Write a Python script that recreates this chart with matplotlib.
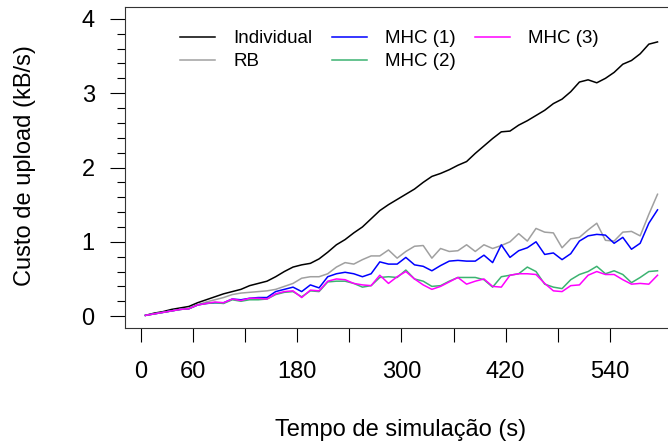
import matplotlib
matplotlib.use("Agg")
import matplotlib.pyplot as plt
import numpy as np

# tempo de simulação (s), amostras a cada 10 s
tempo = list(range(5, 600, 10))

individual = [0.01, 0.04, 0.06, 0.09, 0.11, 0.13, 0.18, 0.22, 0.26, 0.30,
              0.33, 0.36, 0.41, 0.44, 0.47, 0.53, 0.60, 0.66, 0.69, 0.71,
              0.77, 0.86, 0.96, 1.03, 1.12, 1.20, 1.31, 1.42, 1.50, 1.57,
              1.64, 1.71, 1.80, 1.88, 1.92, 1.97, 2.03, 2.08, 2.19, 2.29,
              2.39, 2.48, 2.49, 2.57, 2.63, 2.70, 2.77, 2.86, 2.92, 3.02,
              3.15, 3.18, 3.14, 3.20, 3.28, 3.39, 3.44, 3.53, 3.66, 3.69]

rb = [0.01, 0.03, 0.05, 0.07, 0.09, 0.10, 0.15, 0.19, 0.22, 0.25,
      0.29, 0.31, 0.32, 0.33, 0.34, 0.36, 0.40, 0.44, 0.51, 0.53,
      0.53, 0.57, 0.66, 0.72, 0.70, 0.76, 0.81, 0.81, 0.89, 0.78,
      0.87, 0.94, 0.95, 0.78, 0.91, 0.87, 0.88, 0.96, 0.87, 0.96,
      0.91, 0.95, 1.00, 1.11, 1.01, 1.18, 1.13, 1.12, 0.92, 1.04,
      1.06, 1.16, 1.25, 1.02, 1.01, 1.13, 1.14, 1.08, 1.37, 1.64]

mhc1 = [0.01, 0.03, 0.05, 0.07, 0.09, 0.10, 0.15, 0.17, 0.18, 0.18,
        0.23, 0.22, 0.24, 0.25, 0.25, 0.33, 0.36, 0.39, 0.33, 0.42,
        0.38, 0.53, 0.57, 0.59, 0.57, 0.53, 0.57, 0.73, 0.70, 0.70,
        0.79, 0.69, 0.67, 0.61, 0.68, 0.74, 0.75, 0.74, 0.74, 0.82,
        0.72, 0.96, 0.79, 0.88, 0.92, 1.00, 0.83, 0.85, 0.76, 0.84,
        1.01, 1.08, 1.10, 1.09, 0.98, 1.06, 0.90, 0.98, 1.25, 1.43]

mhc2 = [0.01, 0.03, 0.05, 0.07, 0.09, 0.10, 0.15, 0.17, 0.18, 0.17,
        0.22, 0.20, 0.22, 0.22, 0.23, 0.29, 0.32, 0.33, 0.26, 0.34,
        0.33, 0.46, 0.47, 0.47, 0.44, 0.39, 0.41, 0.52, 0.53, 0.52,
        0.62, 0.50, 0.47, 0.40, 0.41, 0.47, 0.52, 0.52, 0.52, 0.49,
        0.39, 0.53, 0.55, 0.57, 0.66, 0.60, 0.43, 0.39, 0.37, 0.49,
        0.56, 0.60, 0.67, 0.57, 0.61, 0.56, 0.45, 0.52, 0.60, 0.61]

mhc3 = [0.01, 0.03, 0.05, 0.07, 0.09, 0.10, 0.15, 0.17, 0.19, 0.18,
        0.23, 0.21, 0.24, 0.24, 0.23, 0.30, 0.33, 0.34, 0.25, 0.35,
        0.34, 0.47, 0.50, 0.49, 0.44, 0.42, 0.41, 0.55, 0.44, 0.53,
        0.60, 0.50, 0.42, 0.36, 0.40, 0.46, 0.52, 0.43, 0.47, 0.50,
        0.40, 0.39, 0.55, 0.57, 0.57, 0.56, 0.44, 0.34, 0.33, 0.41,
        0.42, 0.55, 0.60, 0.56, 0.56, 0.49, 0.43, 0.44, 0.43, 0.55]

series = [("Individual", individual, "black"),
          ("RB", rb, "#a0a0a0"),
          ("MHC (1)", mhc1, "#0000ff"),
          ("MHC (2)", mhc2, "#3cb371"),
          ("MHC (3)", mhc3, "#ff00ff")]

x_ticks = list(range(0, 541, 60))
x_labels = ["0", "60", "", "180", "", "300", "", "420", "", "540"]

plt.rcParams["font.family"] = ["Liberation Sans", "DejaVu Sans"]

W, H = 668, 446
fig = plt.figure(figsize=(W / 100, H / 100), dpi=100)
# eixo se estende além da borda direita (como no original)
ax = fig.add_axes([125 / W, (H - 328) / H, (678 - 125) / W, 321 / H])

for nome, vals, cor in series:
    ax.plot(tempo, vals, color=cor, lw=1.1, label=nome)

ax.set_xlim(-18.6, 618.6)
ax.set_ylim(-0.16, 4.16)

ax.set_xticks(x_ticks)
ax.set_xticklabels(x_labels, fontsize=17)
ax.set_yticks([0, 1, 2, 3, 4])
ax.set_yticks(np.arange(0, 4.01, 0.2), minor=True)
ax.tick_params(axis="y", which="major", length=10.8, width=0.8, pad=11, labelsize=17)
ax.tick_params(axis="y", which="minor", length=5.8, width=0.8)
ax.tick_params(axis="x", which="major", length=10, width=0.8, pad=14)

for s in ax.spines.values():
    s.set_color("#333333")
    s.set_linewidth(0.8)

fig.text(25 / W, 1 - 166 / H, "Custo de upload (kB/s)", rotation=90,
         ha="center", va="center", fontsize=17)
fig.text(401 / W, 1 - 430 / H, "Tempo de simulação (s)",
         ha="center", va="center", fontsize=17)

ax.legend(loc="upper left", bbox_to_anchor=(180 / W, 1 - 30 / H),
          bbox_transform=fig.transFigure, ncol=3, frameon=False,
          fontsize=13.5, borderpad=0, borderaxespad=0, handlelength=1.87,
          handletextpad=0.96, columnspacing=1.05, labelspacing=0.33)

fig.savefig("out.png", dpi=100)
